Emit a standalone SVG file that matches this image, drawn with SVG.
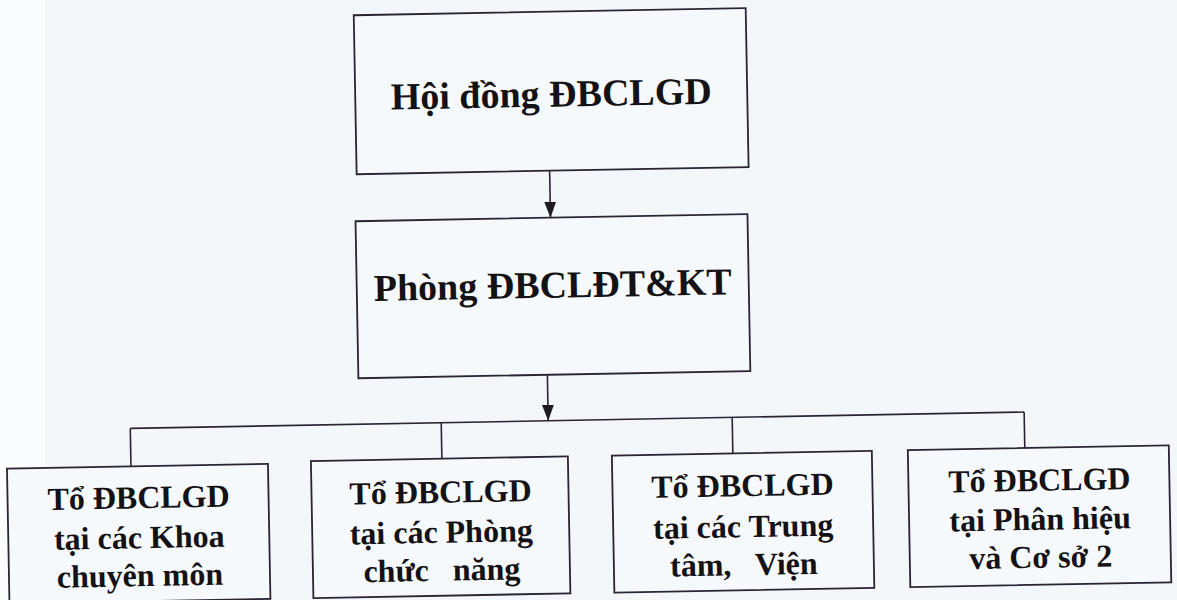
<svg xmlns="http://www.w3.org/2000/svg" width="1177" height="600" viewBox="0 0 1177 600">
  <style>
    .box { fill: #f6f9fb; stroke: #2b2433; stroke-width: 1.8; }
    .wire { fill: none; stroke: #2b2433; stroke-width: 1.6; }
    .big { font-family: "Liberation Serif", "Times New Roman", serif; font-weight: bold; font-size: 38px; fill: #141214; text-anchor: middle; }
    .small { font-family: "Liberation Serif", "Times New Roman", serif; font-weight: bold; font-size: 32px; fill: #141214; text-anchor: middle; white-space: pre; }
  </style>
  <defs>
    <marker id="arrow" viewBox="0 0 16 12" refX="16" refY="6" markerWidth="16" markerHeight="12" markerUnits="userSpaceOnUse" orient="auto">
      <path d="M0,0 L16,6 L0,12 z" fill="#1e1a22"/>
    </marker>
  </defs>

  <!-- paper -->
  <rect x="0" y="0" width="1177" height="600" fill="#f3f7fa"/>
  <rect x="0" y="0" width="45" height="600" fill="#fafcfd"/>

  <!-- whole chart sits slightly tilted on the page -->
  <g transform="rotate(-1.05 588 300)">
    <g id="connectors">
      <line class="wire" x1="552" y1="170" x2="552" y2="217" marker-end="url(#arrow)"/>
      <line class="wire" x1="546" y1="374" x2="546" y2="420" marker-end="url(#arrow)"/>
      <path class="wire" d="M128,420 H1022"/>
      <path class="wire" d="M128,420 V458"/>
      <path class="wire" d="M439,420 V456"/>
      <path class="wire" d="M730,420 V456"/>
      <path class="wire" d="M1022,420 V456"/>
    </g>

    <g id="hoi-dong">
      <rect class="box" x="359" y="11" width="392" height="159"/>
      <text class="big" x="555" y="106">Hội đồng ĐBCLGD</text>
    </g>

    <g id="phong">
      <rect class="box" x="357" y="217" width="392" height="157"/>
      <text class="big" x="553" y="297">Phòng ĐBCLĐT&amp;KT</text>
    </g>

    <g id="to-khoa">
      <rect class="box" x="4" y="458" width="261" height="135"/>
      <text class="small" x="135" y="500">Tổ ĐBCLGD</text>
      <text class="small" x="135" y="540">tại các Khoa</text>
      <text class="small" x="135" y="578">chuyên môn</text>
    </g>

    <g id="to-phong">
      <rect class="box" x="308" y="456" width="257" height="137"/>
      <text class="small" x="437" y="500">Tổ ĐBCLGD</text>
      <text class="small" x="437" y="540">tại các Phòng</text>
      <text class="small" x="437" y="578">chức   năng</text>
    </g>

    <g id="to-trung-tam">
      <rect class="box" x="609" y="456" width="260" height="137"/>
      <text class="small" x="739" y="499">Tổ ĐBCLGD</text>
      <text class="small" x="739" y="540">tại các Trung</text>
      <text class="small" x="739" y="578">tâm,   Viện</text>
    </g>

    <g id="to-phan-hieu">
      <rect class="box" x="905" y="456" width="261" height="137"/>
      <text class="small" x="1036" y="499">Tổ ĐBCLGD</text>
      <text class="small" x="1036" y="538">tại Phân hiệu</text>
      <text class="small" x="1036" y="576">và Cơ sở 2</text>
    </g>
  </g>
</svg>
